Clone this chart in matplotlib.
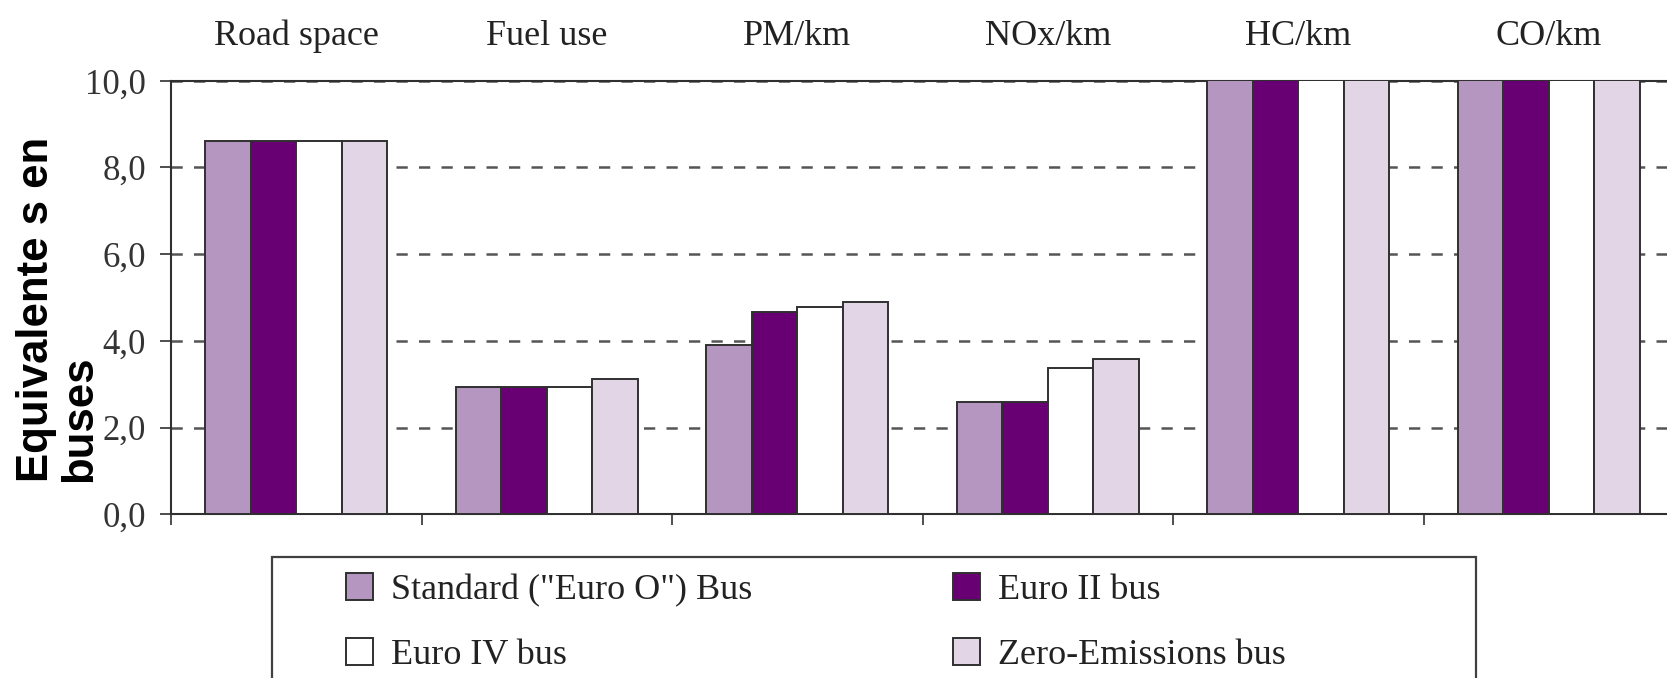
import numpy as np
import matplotlib
matplotlib.use("Agg")
import matplotlib.pyplot as plt
from matplotlib.patches import Rectangle

# data (HC and CO bars run past the top of the axis)
categories = ["Road space", "Fuel use", "PM/km", "NOx/km", "HC/km", "CO/km"]
series = ['Standard ("Euro O") Bus', "Euro II bus", "Euro IV bus", "Zero-Emissions bus"]
standard = [8.62, 2.93, 3.91, 2.58, 12.0, 12.0]
euro2 = [8.62, 2.93, 4.66, 2.58, 12.0, 12.0]
euro4 = [8.62, 2.93, 4.78, 3.37, 12.0, 12.0]
zero_em = [8.62, 3.12, 4.89, 3.58, 12.0, 12.0]
yticks = [0, 2, 4, 6, 8, 10]
ytick_labels = ["0,0", "2,0", "4,0", "6,0", "8,0", "10,0"]

colors = ["#b496c0", "#680074", "#ffffff", "#e2d5e6"]
edge = "#303030"
serif = ["Liberation Serif", "DejaVu Serif"]

W, H = 1667, 678
fig = plt.figure(figsize=(W / 100, H / 100), dpi=100)
ax = fig.add_axes([171 / W, 163.7 / H, 1503 / W, 433.5 / H])

x = np.arange(len(categories))
w = 0.182
handles = []
for i, vals in enumerate([standard, euro2, euro4, zero_em]):
    b = ax.bar(x + (i - 1.5) * w, vals, w, color=colors[i], edgecolor=edge,
               linewidth=1.4, zorder=3, label=series[i])
    handles.append(b)

ax.set_xlim(-0.5, len(categories) - 0.5)
ax.set_ylim(0, 10)

# bottom: tick marks between the groups, no labels
ax.set_xticks(np.arange(-0.5, len(categories)), [""] * (len(categories) + 1))
ax.tick_params(axis="x", which="major", direction="out", length=8, width=1.3,
               color="#404040", top=False)
# top: category names on minor ticks
ax.set_xticks(x, categories, minor=True)
ax.tick_params(axis="x", which="minor", length=0, bottom=False, top=False,
               labelbottom=False, labeltop=True, pad=20, labelsize=26,
               labelcolor="#222222")
for t in ax.get_xticklabels(minor=True):
    t.set_family(serif)

ax.set_yticks(yticks, ytick_labels)
ax.tick_params(axis="y", direction="out", length=8, width=1.3, color="#404040",
               pad=10, labelsize=25, labelcolor="#333333")
for t in ax.get_yticklabels():
    t.set_family(serif)

ax.yaxis.grid(True, color="#555555", linewidth=1.8, linestyle=(0, (4.5, 4.5)))
ax.set_axisbelow(True)
for s in ["left", "top", "bottom", "right"]:
    ax.spines[s].set_color("#303030")
    ax.spines[s].set_linewidth(1.5)

fig.text(58 / W, (H - 482) / H, "Equivalente s en\nbuses", rotation=90,
         ha="center", va="bottom", multialignment="left", fontsize=31.5,
         fontweight="bold", family=["Liberation Sans", "DejaVu Sans"],
         linespacing=1.05)

# legend with its own frame that runs past the bottom edge
fig.patches.append(Rectangle((271.7 / W, -0.05), 1203.8 / W, (H - 556.7) / H + 0.05,
                             transform=fig.transFigure, fill=False,
                             edgecolor="#404040", linewidth=1.6))
order = [0, 2, 1, 3]
leg = fig.legend([handles[i] for i in order], [series[i] for i in order],
                 ncol=2, loc="upper left", bbox_to_anchor=(346 / W, (H - 573) / H),
                 frameon=False, borderpad=0, borderaxespad=0,
                 handlelength=0.75, handleheight=0.78, handletextpad=0.5,
                 labelspacing=0.85, columnspacing=5.55,
                 prop={"family": serif, "size": 26})
for t in leg.get_texts():
    t.set_color("#222222")

fig.savefig("out.png", dpi=100)
